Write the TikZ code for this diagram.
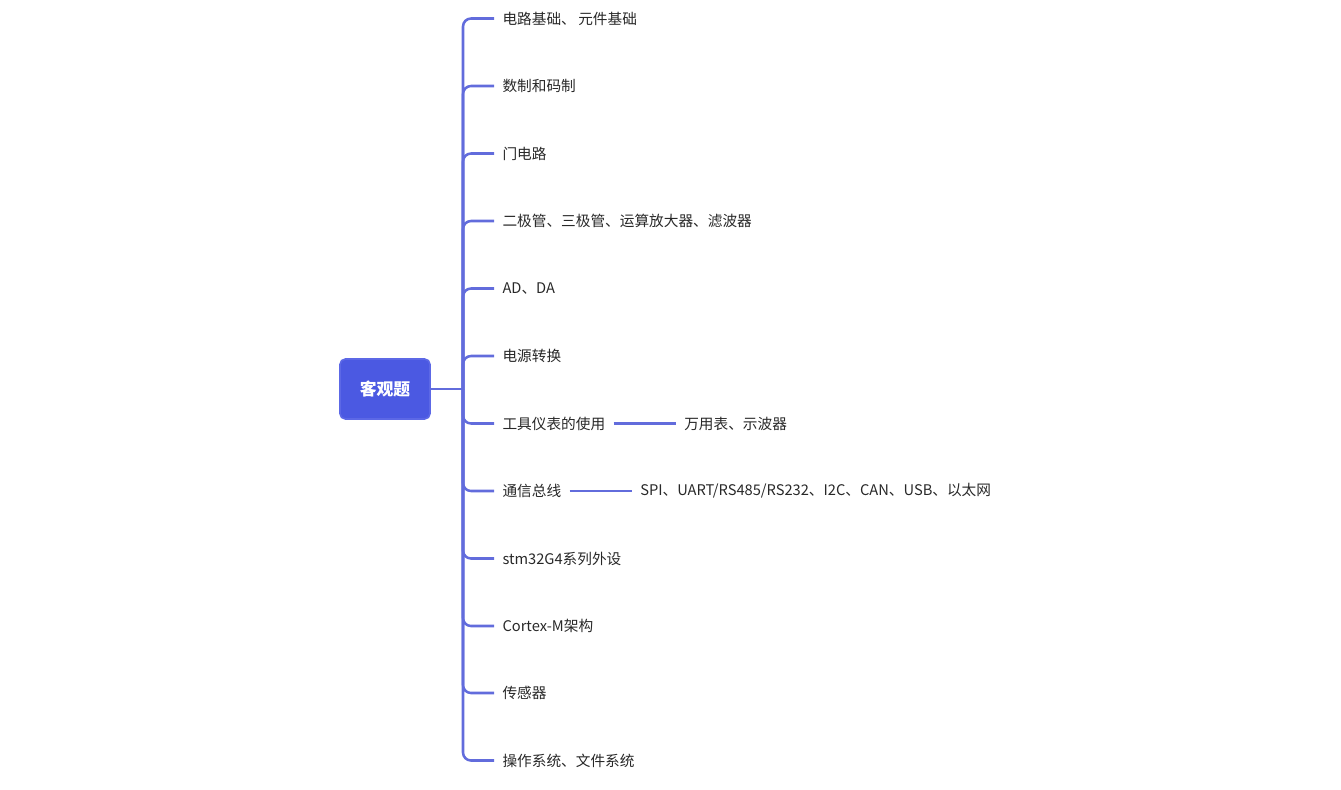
\documentclass[tikz,border=0pt]{standalone}
\usepackage{fontspec}
\setmainfont{Noto Sans CJK SC}
\usetikzlibrary{positioning}
\definecolor{rootfill}{RGB}{75,89,226}
\definecolor{rootdraw}{RGB}{92,104,230}
\definecolor{linkc}{RGB}{98,108,220}
\definecolor{txt}{RGB}{40,40,40}
\begin{document}
\begin{tikzpicture}[x=0.75pt,y=-0.75pt,
  rootbox/.style={draw=rootdraw,line width=1.2pt,fill=rootfill,rounded corners=4pt,minimum width=67.5pt,minimum height=45pt,text=white,font=\fontsize{12.6pt}{14pt}\selectfont\bfseries},
  leaf/.style={inner xsep=6.2pt,inner ysep=2pt,text=txt,font=\fontsize{11pt}{13pt}\selectfont,anchor=west},
  link/.style={draw=linkc,line width=1.9pt,rounded corners=6pt},
  sublink/.style={draw=linkc,line width=1.9pt}]
\useasboundingbox (0,0) rectangle (1341,789);
\node[rootbox] (root) at (385,389) {客观题};
\coordinate (j) at (463,389);
\node[leaf] (t1) at (494,18.5) {电路基础、\,元件基础};
\node[leaf] (t2) at (494,86) {数制和码制};
\node[leaf] (t3) at (494,153.5) {门电路};
\node[leaf] (t4) at (494,221) {二极管、三极管、运算放大器、滤波器};
\node[leaf] (t5) at (494,288.5) {AD、DA};
\node[leaf] (t6) at (494,356) {电源转换};
\node[leaf] (t7) at (494,423.5) {工具仪表的使用};
\node[leaf] (t8) at (494,491) {通信总线};
\node[leaf] (t9) at (494,558.5) {stm32G4系列外设};
\node[leaf] (t10) at (494,626) {Cortex-M架构};
\node[leaf] (t11) at (494,693) {传感器};
\node[leaf] (t12) at (494,760.5) {操作系统、文件系统};
\node[leaf,right=46.5pt of t7] (s7) {万用表、示波器};
\node[leaf,right=46.5pt of t8] (s8) {SPI、UART/RS485/RS232、I2C、CAN、USB、以太网};
\draw[sublink] (root.east) -- (j);
\foreach \t in {t1,t2,t3,t4,t5,t6,t7,t8,t9,t10,t11,t12}{
  \draw[link] (j) |- (\t.west);
}
\draw[sublink] (t7.east) -- (s7.west);
\draw[sublink] (t8.east) -- (s8.west);
\end{tikzpicture}
\end{document}
